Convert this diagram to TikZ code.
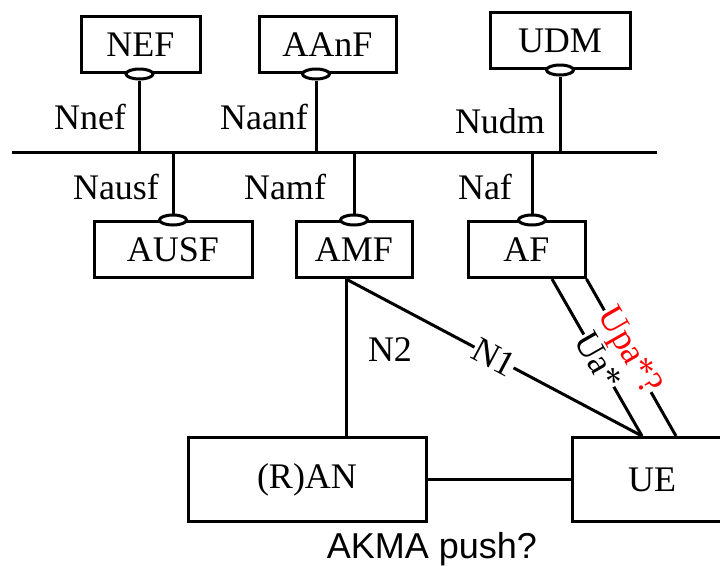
\documentclass[tikz,border=0pt]{standalone}
\usepackage{fontspec}
\setmainfont{Liberation Serif}
\setsansfont{Liberation Sans}
\usetikzlibrary{positioning,shapes.geometric}

\begin{document}
\begin{tikzpicture}[x=1pt,y=-1pt,
    nf/.style={draw,rectangle,line width=3pt,minimum height=56pt,inner sep=0pt,font=\fontsize{36}{40}\selectfont},
    sap/.style={draw,ellipse,fill=white,line width=3pt,minimum width=27pt,minimum height=10pt,inner sep=0pt},
    lbl/.style={font=\fontsize{36}{40}\selectfont,inner sep=0pt},
    link/.style={line width=3pt}]
    \useasboundingbox (0,0) rectangle (720,565);
    \clip (0,0) rectangle (720,565);

    \node[nf,minimum width=119pt] (nef) at (140.5,44.5) {NEF};
    \node[nf,minimum width=137pt] (aanf) at (327.5,44.5) {AAnF};
    \node[nf,minimum width=140pt] (udm) at (560,40.5) {UDM};
    \node[nf,minimum width=158pt] (ausf) at (173,249.5) {AUSF};
    \node[nf,minimum width=116pt] (amf) at (354,249.5) {AMF};
    \node[nf,minimum width=117pt] (af) at (526.5,249.5) {AF};
    \node[nf,minimum width=238pt,minimum height=84pt] (ran) at (307,479.5) {(R)AN};
    \node[nf,minimum width=160pt,minimum height=84pt] (ue) at (652,479.5) {UE};

    % service points
    \node[sap,xshift=-1pt] (nefsap) at (nef.south) {};
    \node[sap,xshift=-11.5pt] (aanfsap) at (aanf.south) {};
    \node[sap] (udmsap) at (udm.south) {};
    \node[sap] (ausfsap) at (ausf.north) {};
    \node[sap] (amfsap) at (amf.north) {};
    \node[sap,xshift=5.5pt] (afsap) at (af.north) {};

    % bus
    \coordinate (busw) at (12,152);
    \coordinate (buse) at (657,152);
    \draw[link] (busw) -- (buse);

    \draw[link] (nefsap) -- (nefsap |- busw);
    \draw[link] (aanfsap) -- (aanfsap |- busw);
    \draw[link] (udmsap) -- (udmsap |- busw);
    \draw[link] (ausfsap) -- (ausfsap |- busw);
    \draw[link] (amfsap) -- (amfsap |- busw);
    \draw[link] (afsap) -- (afsap |- busw);

    \node[lbl] (nnef) at (90,117) {Nnef};
    \node[lbl] (naanf) at (264,117) {Naanf};
    \node[lbl] (nudm) at (500,121) {Nudm};
    \node[lbl] (nausf) at (116,187) {Nausf};
    \node[lbl] (namf) at (285,187) {Namf};
    \node[lbl] (naf) at (485,187) {Naf};

    % links to the UE
    \coordinate (n2top) at ([xshift=-8pt]amf.south);
    \coordinate (uea) at ([xshift=-10pt]ue.north);
    \coordinate (ueb) at ([xshift=24pt]ue.north);
    \coordinate (uatop) at ([xshift=25.5pt]af.south);

    \draw[link] (n2top) -- (n2top |- ran.north);
    \node[lbl] (n2) at (390,350) {N2};
    \draw[link] (n2top) -- node[lbl,fill=white,sloped] (n1) {N1} (uea);
    \draw[link] (af.south east) -- node[lbl,fill=white,sloped,text=red,pos=0.46] (upa) {Upa*?} (ueb);
    \draw[link] (uatop) -- node[lbl,fill=white,sloped,pos=0.52] (ua) {Ua*} (uea);
    \draw[link] (ran) -- (ue);

    \node[anchor=base,font=\sffamily\fontsize{36}{40}\selectfont] (push) at (432,558) {AKMA push?};
\end{tikzpicture}
\end{document}
